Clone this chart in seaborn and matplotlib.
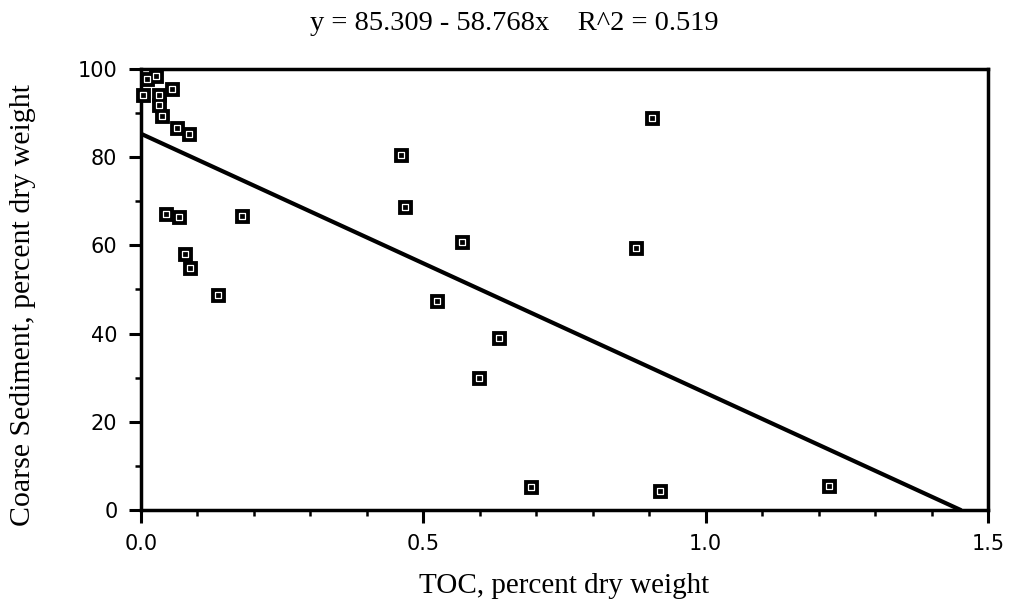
import numpy as np
import pandas as pd
import matplotlib
matplotlib.use("Agg")
import matplotlib.pyplot as plt
from matplotlib.ticker import MultipleLocator
import seaborn as sns

# Data
toc = [0.004, 0.010, 0.027, 0.031, 0.032, 0.038, 0.054, 0.064, 0.085,
       0.044, 0.068, 0.178, 0.078, 0.087, 0.137,
       0.905, 0.461, 0.467, 0.568, 0.877, 0.525, 0.634, 0.598,
       0.690, 0.920, 1.218]
coarse = [94.0, 97.7, 98.5, 94.0, 91.8, 89.3, 95.4, 86.6, 85.3,
          67.2, 66.5, 66.7, 58.0, 54.9, 48.8,
          88.8, 80.5, 68.8, 60.8, 59.3, 47.4, 38.9, 29.9,
          5.2, 4.3, 5.4]
intercept = 85.309
slope = -58.768
title_text = "y = 85.309 - 58.768x    R^2 = 0.519"
x_label = "TOC, percent dry weight"
y_label = "Coarse Sediment, percent dry weight"
x_ticks = [0.0, 0.5, 1.0, 1.5]
y_ticks = [0, 20, 40, 60, 80, 100]

df = pd.DataFrame({"TOC": toc, "Coarse": coarse})

sns.set_theme(style="white")
plt.rcParams["font.family"] = ["DejaVu Sans"]

fig = plt.figure(figsize=(10.13, 6.11), dpi=100)
ax = fig.add_axes([0.1392, 0.1653, 0.8361, 0.7218])

# regression line from stated coefficients
x_end = -intercept / slope
xl = np.array([0.0, x_end])
ax.plot(xl, intercept + slope * xl, color="black", lw=3.0, zorder=2)

sns.scatterplot(data=df, x="TOC", y="Coarse", ax=ax, marker="s", s=110,
                color="black", edgecolor="black", linewidth=0.6, zorder=3,
                clip_on=False, legend=False)
sns.scatterplot(data=df, x="TOC", y="Coarse", ax=ax, marker="s", s=14,
                color="black", edgecolor="white", linewidth=0.9, zorder=4,
                clip_on=False, legend=False)

ax.set_xlim(0, 1.5)
ax.set_ylim(0, 100)
ax.set_xticks(x_ticks)
ax.set_xticklabels([f"{v:.1f}" for v in x_ticks])
ax.set_yticks(y_ticks)
ax.set_yticklabels([str(v) for v in y_ticks])
ax.xaxis.set_minor_locator(MultipleLocator(0.1))
ax.yaxis.set_minor_locator(MultipleLocator(10))

for s in ax.spines.values():
    s.set_visible(True)
    s.set_color("black")
    s.set_linewidth(2.5)

ax.tick_params(axis="both", which="major", direction="out", length=9, width=2.2,
               color="black", labelsize=15, pad=8, bottom=True, left=True)
ax.tick_params(axis="both", which="minor", direction="out", length=4, width=1.8,
               color="black", bottom=True, left=True)
for lab in ax.get_xticklabels() + ax.get_yticklabels():
    lab.set_color("black")

serif = ["Liberation Serif", "DejaVu Serif"]
ax.set_ylabel("")
ax.set_xlabel(x_label, family=serif, fontsize=21, color="black", labelpad=14)
fig.text(0.023, 0.5, y_label, family=serif, fontsize=21.5, color="black",
         ha="center", va="center", rotation=90)
fig.text(0.508, 0.962, title_text, family=serif, fontsize=20.5, color="black",
         ha="center", va="center")

fig.savefig("out.png", dpi=100, facecolor="white")
